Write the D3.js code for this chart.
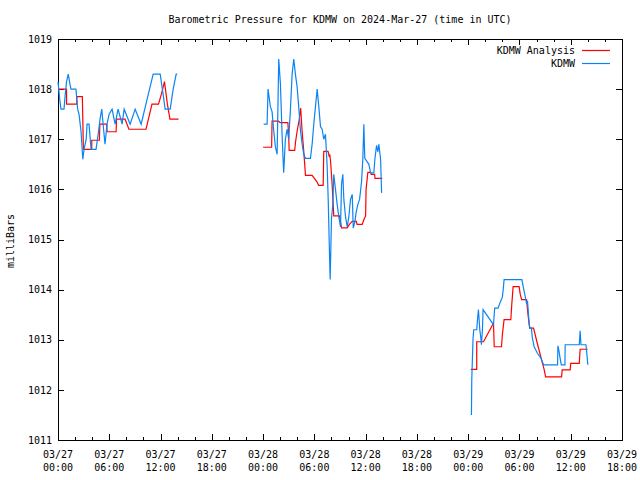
<!DOCTYPE html>
<html>
<head>
<meta charset="utf-8">
<script src="https://cdn.jsdelivr.net/npm/d3@7"></script>
<style>
html,body{margin:0;padding:0;background:#fff;}
svg{display:block;}
text{font-family:"DejaVu Sans Mono","Liberation Mono",monospace;font-size:10px;fill:#000;}
</style>
</head>
<body>
<svg id="chart" width="640" height="480"></svg>
<script>
// ---- data (hours since 2024-03-27 00:00 UTC, pressure in mb) ----
const titleText = "Barometric Pressure for KDMW on 2024-Mar-27 (time in UTC)";
const seriesNames = ["KDMW Analysis", "KDMW"];
const yTickValues = [1011, 1012, 1013, 1014, 1015, 1016, 1017, 1018, 1019];
const xMajorHours = [0, 6, 12, 18, 24, 30, 36, 42, 48, 54, 60, 66];
const xMinorHours = [2, 4, 8, 10, 14, 16, 20, 22, 26, 28, 32, 34, 38, 40, 44, 46, 50, 52, 56, 58, 62, 64];

const analysisHours = [
  0, 1.0, 1.0, 2.2, 2.2, 2.85, 2.97, 3.95, 3.95, 4.84, 4.9, 5.7, 5.75, 6.8, 6.85, 7.85, 8.3, 10.3, 11.0, 11.76, 12.1, 12.46, 12.8, 13.1, 14.1,
  24.0, 25.0, 25.05, 25.8, 26.0, 26.9, 27.0, 27.05, 27.7, 27.8, 28.0, 28.2, 28.4, 28.57, 28.75, 28.96, 29.74, 30.0, 30.3, 30.5, 31.03, 31.1, 31.6, 31.75, 31.8, 31.9, 32.08, 32.27, 32.94, 33.18, 33.84, 34.1, 34.43, 34.9, 35.0, 35.6, 35.8, 36.0, 36.05, 36.26, 36.58, 36.65, 37.05, 37.1, 37.95,
  48.3, 49.0, 49.0, 49.79, 50.96, 51.05, 51.9, 52.0, 52.2, 52.99, 53.1, 53.26, 53.96, 54.1, 54.25, 54.83, 55.0, 55.2, 55.65, 55.8, 56.04, 56.3, 56.5, 56.7, 56.9, 57.06, 58.93, 59.0, 59.94, 60.0, 61.0, 61.1, 61.98
];
const analysisMb = [
  1018.0, 1018.0, 1017.7, 1017.7, 1017.85, 1017.85, 1016.8, 1016.8, 1016.98, 1016.98, 1017.3, 1017.3, 1017.15, 1017.15, 1017.4, 1017.4, 1017.2, 1017.2, 1017.7, 1017.7, 1017.9, 1018.15, 1017.7, 1017.4, 1017.4,
  1016.84, 1016.84, 1017.36, 1017.36, 1017.33, 1017.33, 1017.06, 1016.78, 1016.78, 1016.95, 1017.18, 1017.36, 1017.62, 1017.15, 1016.78, 1016.28, 1016.28, 1016.22, 1016.15, 1016.08, 1016.08, 1016.76, 1016.76, 1016.65, 1016.7, 1016.55, 1016.1, 1015.47, 1015.47, 1015.23, 1015.23, 1015.3, 1015.36, 1015.36, 1015.3, 1015.3, 1015.4, 1015.47, 1016.0, 1016.34, 1016.34, 1016.3, 1016.3, 1016.22, 1016.22,
  1012.41, 1012.41, 1012.96, 1012.96, 1013.33, 1012.86, 1012.86, 1013.1, 1013.4, 1013.4, 1013.7, 1014.06, 1014.06, 1013.9, 1013.8, 1013.8, 1013.5, 1013.23, 1013.23, 1013.13, 1012.96, 1012.79, 1012.66, 1012.53, 1012.4, 1012.26, 1012.26, 1012.4, 1012.4, 1012.53, 1012.53, 1012.81, 1012.81
];

const kdmwHours = [
  0, 0.2, 0.35, 0.7, 0.85, 1.0, 1.2, 1.4, 1.52, 2.1, 2.3, 2.46, 2.7, 2.9, 3.05, 3.3, 3.4, 3.63, 3.87, 4.45, 4.7, 4.92, 5.12, 5.28, 5.5, 5.74, 5.98, 6.33, 6.68, 7.03, 7.5, 7.74, 8.44, 9.03, 9.73, 10.43, 11.14, 11.96, 12.3, 12.54, 13.13, 13.48, 13.83, 13.95,
  24.07, 24.47, 24.58, 24.85, 25.05, 25.24, 25.44, 25.64, 25.83, 26.03, 26.22, 26.41, 26.61, 26.81, 27.0, 27.2, 27.4, 27.59, 27.78, 27.98, 28.17, 28.37, 28.57, 28.76, 28.96, 29.54, 29.74, 29.93, 30.13, 30.33, 30.52, 30.72, 30.91, 31.1, 31.3, 31.5, 31.62, 31.77, 31.85, 32.0, 32.16, 32.27, 32.47, 32.67, 32.86, 33.06, 33.18, 33.33, 33.45, 33.65, 33.85, 34.03, 34.23, 34.43, 34.55, 34.74, 34.9, 35.09, 35.29, 35.52, 35.67, 35.79, 35.9, 36.19, 36.38, 36.58, 36.96, 37.08, 37.28, 37.43, 37.55, 37.75, 37.87,
  48.38, 48.42, 48.57, 48.65, 49.0, 49.09, 49.2, 49.36, 49.47, 49.55, 49.67, 49.74, 50.96, 51.1, 51.5, 51.7, 52.0, 52.1, 52.2, 54.28, 54.45, 54.63, 54.83, 54.95, 55.06, 55.15, 55.22, 55.4, 55.5, 55.72, 55.9, 56.1, 56.5, 56.82, 58.46, 58.5, 58.6, 58.75, 58.9, 59.32, 59.35, 61.0, 61.1, 61.2, 61.78, 61.9, 62.0
];
const kdmwMb = [
  1018.15, 1017.8, 1017.6, 1017.6, 1017.9, 1018.15, 1018.3, 1018.1, 1018.0, 1018.0, 1017.6, 1017.5, 1017.15, 1016.6, 1016.8, 1017.0, 1017.3, 1017.3, 1016.8, 1016.8, 1017.1, 1017.4, 1017.6, 1017.3, 1016.9, 1017.3, 1017.5, 1017.6, 1017.3, 1017.6, 1017.3, 1017.6, 1017.3, 1017.6, 1017.3, 1017.8, 1018.3, 1018.3, 1017.9, 1017.6, 1017.6, 1018.0, 1018.3, 1018.3,
  1017.3, 1017.3, 1018.0, 1017.65, 1017.55, 1017.18, 1016.85, 1016.7, 1018.6, 1018.1, 1017.1, 1016.33, 1017.0, 1017.2, 1017.0, 1017.6, 1018.3, 1018.6, 1018.3, 1018.05, 1017.65, 1017.18, 1016.9, 1016.7, 1016.62, 1016.62, 1016.9, 1017.3, 1017.65, 1018.0, 1017.65, 1017.25, 1017.2, 1017.0, 1017.1, 1016.45, 1015.8, 1014.72, 1014.2, 1015.4, 1015.7, 1016.3, 1016.0, 1015.7, 1015.45, 1015.25, 1016.1, 1016.3, 1015.8, 1015.45, 1015.25, 1015.45, 1015.8, 1015.9, 1015.23, 1015.35, 1015.55, 1015.7, 1015.8, 1016.15, 1016.6, 1017.3, 1016.62, 1016.55, 1016.5, 1016.33, 1016.33, 1016.6, 1016.88, 1016.75, 1016.9, 1016.6, 1015.93,
  1011.5, 1012.2, 1013.03, 1013.2, 1013.2, 1013.4, 1013.6, 1013.2, 1013.05, 1012.9, 1013.2, 1013.6, 1013.3, 1013.63, 1013.63, 1013.73, 1013.85, 1014.0, 1014.2, 1014.2, 1014.05, 1013.9, 1013.73, 1013.76, 1013.5, 1013.3, 1013.23, 1013.23, 1013.05, 1012.86, 1012.8, 1012.73, 1012.64, 1012.5, 1012.5, 1012.88, 1012.8, 1012.64, 1012.5, 1012.5, 1012.9, 1012.9, 1013.18, 1012.9, 1012.9, 1012.7, 1012.5
];

const seriesColors = ["#ff0000", "#0a84f5"];

// ---- layout ----
const svg = d3.select("#chart");
const L = 58, R = 622, T = 39, B = 440;
const x = d3.scaleLinear().domain([0, 66]).range([L, R]);
const y = d3.scaleLinear().domain([1011, 1019]).range([B, T]);

const start = Date.UTC(2024, 2, 27, 0, 0);
const fmtDate = d3.utcFormat("%m/%d");
const fmtTime = d3.utcFormat("%H:%M");
const toDate = h => new Date(start + h * 3600e3);

// title
svg.append("text").attr("x", 340).attr("y", 23).attr("text-anchor", "middle").text(titleText);

// y label
svg.append("text")
  .attr("transform", "translate(14,241) rotate(-90)")
  .attr("text-anchor", "middle")
  .text("milliBars");

// axes (inward ticks, mirrored)
const gB = svg.append("g").attr("transform", `translate(0,${B})`)
  .call(d3.axisBottom(x).tickValues(xMajorHours).tickSizeInner(-6).tickSizeOuter(0).tickFormat(""));
const gT = svg.append("g").attr("transform", `translate(0,${T})`)
  .call(d3.axisTop(x).tickValues(xMajorHours).tickSizeInner(-6).tickSizeOuter(0).tickFormat(""));
const gBm = svg.append("g").attr("transform", `translate(0,${B})`)
  .call(d3.axisBottom(x).tickValues(xMinorHours).tickSizeInner(-3).tickSizeOuter(0).tickFormat(""));
const gTm = svg.append("g").attr("transform", `translate(0,${T})`)
  .call(d3.axisTop(x).tickValues(xMinorHours).tickSizeInner(-3).tickSizeOuter(0).tickFormat(""));
const gL = svg.append("g").attr("transform", `translate(${L},0)`)
  .call(d3.axisLeft(y).tickValues(yTickValues).tickSizeInner(-6).tickSizeOuter(0).tickPadding(6).tickFormat(d3.format("d")));
const gR = svg.append("g").attr("transform", `translate(${R},0)`)
  .call(d3.axisRight(y).tickValues(yTickValues).tickSizeInner(-6).tickSizeOuter(0).tickFormat(""));

[gB, gT, gBm, gTm, gL, gR].forEach(g => {
  g.select(".domain").remove();
  g.selectAll("line").attr("stroke", "#000").attr("shape-rendering", "crispEdges");
});
gL.selectAll("text").style("font-family", '"DejaVu Sans Mono",monospace').style("font-size", "10px").attr("fill", "#000");

// x tick labels (two lines)
const xl = svg.append("g").selectAll("text").data(xMajorHours).join("text")
  .attr("text-anchor", "middle")
  .attr("x", d => x(d));
xl.append("tspan").attr("x", d => x(d)).attr("y", 458).text(d => fmtDate(toDate(d)));
xl.append("tspan").attr("x", d => x(d)).attr("y", 471).text(d => fmtTime(toDate(d)));

// frame
svg.append("rect").attr("x", L + 0.5).attr("y", T + 0.5).attr("width", R - L).attr("height", B - T)
  .attr("fill", "none").attr("stroke", "#000").attr("stroke-width", 1);

// series
function build(hours, vals) {
  const pts = hours.map((h, i) => ({h, v: vals[i]}));
  const segs = [];
  let cur = [];
  pts.forEach((p, i) => {
    if (i > 0 && p.h - pts[i - 1].h > 3) { segs.push(cur); cur = []; }
    cur.push(p);
  });
  segs.push(cur);
  return segs;
}
const line = d3.line().x(d => x(d.h)).y(d => y(d.v));
const allSeries = [build(analysisHours, analysisMb), build(kdmwHours, kdmwMb)];
allSeries.forEach((segs, si) => {
  svg.append("g").selectAll("path").data(segs).join("path")
    .attr("d", line)
    .attr("fill", "none")
    .attr("stroke", seriesColors[si])
    .attr("stroke-width", 1.2)
    .attr("stroke-linejoin", "miter");
});

// legend
const leg = svg.append("g").selectAll("g").data(seriesNames).join("g")
  .attr("transform", (d, i) => `translate(0,${50 + i * 13})`);
leg.append("text").attr("x", 575).attr("y", 4).attr("text-anchor", "end").text(d => d);
leg.append("line").attr("x1", 582).attr("x2", 610).attr("y1", 0.5).attr("y2", 0.5)
  .attr("stroke", (d, i) => seriesColors[i]).attr("stroke-width", 1.2);
</script>
</body>
</html>
